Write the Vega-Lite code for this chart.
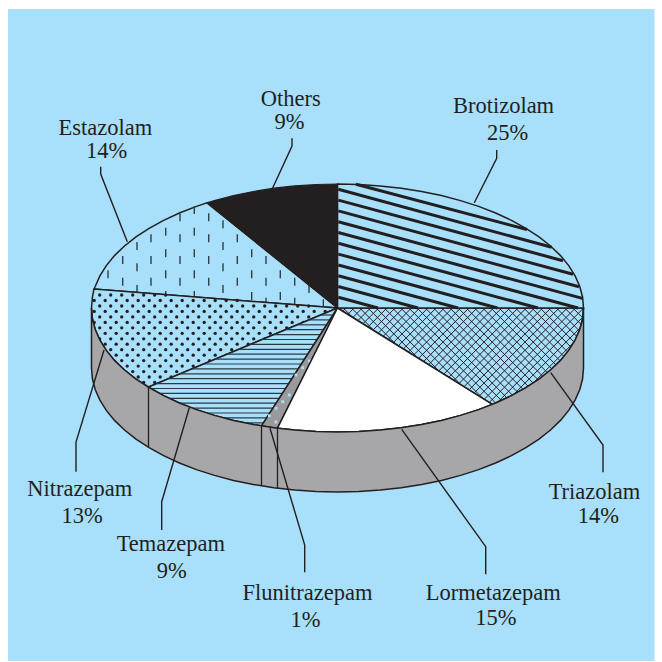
{"$schema":"https://vega.github.io/schema/vega-lite/v6.json","width":662,"height":662,"padding":0,"autosize":{"type":"fit","contains":"padding"},"background":"#ffffff","config":{"view":{"stroke":null}},
"datasets":{
"panel":[{"x":8,"x2":654.5,"y":9,"y2":661}],
"tria":[{"x":337.5,"y":308},{"x":583.5,"y":308},{"x":582.6,"y":318.8},{"x":579.8,"y":329.5},{"x":575.1,"y":340.1},{"x":568.7,"y":350.4},{"x":560.5,"y":360.4},{"x":550.5,"y":370},{"x":539,"y":379.1},{"x":525.9,"y":387.7},{"x":511.4,"y":395.7},{"x":492.3,"y":404.4},{"x":337.5,"y":308}],
"triaLines":[{"x":343.3,"y":308,"x2":454.3,"y2":419},{"x":351.5,"y":308,"x2":460.7,"y2":417.2},{"x":359.7,"y":308,"x2":467.1,"y2":415.4},{"x":367.9,"y":308,"x2":473.4,"y2":413.5},{"x":376.1,"y":308,"x2":479.6,"y2":411.5},{"x":384.3,"y":308,"x2":485.4,"y2":409.1},{"x":392.5,"y":308,"x2":491.3,"y2":406.8},{"x":400.7,"y":308,"x2":497.2,"y2":404.5},{"x":408.9,"y":308,"x2":503,"y2":402.1},{"x":417.1,"y":308,"x2":508.3,"y2":399.2},{"x":425.3,"y":308,"x2":513.9,"y2":396.6},{"x":433.5,"y":308,"x2":519.3,"y2":393.8},{"x":441.7,"y":308,"x2":524.7,"y2":391},{"x":449.9,"y":308,"x2":529.9,"y2":388},{"x":458.1,"y":308,"x2":534.6,"y2":384.5},{"x":466.3,"y":308,"x2":539.5,"y2":381.2},{"x":474.5,"y":308,"x2":544.3,"y2":377.8},{"x":482.7,"y":308,"x2":549,"y2":374.3},{"x":490.9,"y":308,"x2":553.5,"y2":370.6},{"x":499.1,"y":308,"x2":557.3,"y2":366.2},{"x":507.3,"y":308,"x2":561.5,"y2":362.2},{"x":515.5,"y":308,"x2":565.4,"y2":357.9},{"x":523.7,"y":308,"x2":569.2,"y2":353.5},{"x":531.9,"y":308,"x2":572.7,"y2":348.8},{"x":540.1,"y":308,"x2":575.3,"y2":343.2},{"x":548.3,"y":308,"x2":578.2,"y2":337.9},{"x":556.5,"y":308,"x2":580.8,"y2":332.3},{"x":564.7,"y":308,"x2":583,"y2":326.3},{"x":572.9,"y":308,"x2":583,"y2":318.1},{"x":581.1,"y":308,"x2":583,"y2":310},
{"x":345.9,"y":308,"x2":339.7,"y2":314.2},{"x":354.1,"y":308,"x2":344.7,"y2":317.4},{"x":362.3,"y":308,"x2":349.8,"y2":320.5},{"x":370.5,"y":308,"x2":354.9,"y2":323.6},{"x":378.7,"y":308,"x2":359.9,"y2":326.8},{"x":386.9,"y":308,"x2":365,"y2":329.9},{"x":395.1,"y":308,"x2":370,"y2":333.1},{"x":403.3,"y":308,"x2":375.1,"y2":336.2},{"x":411.5,"y":308,"x2":380.1,"y2":339.4},{"x":419.7,"y":308,"x2":385.2,"y2":342.5},{"x":427.9,"y":308,"x2":390.2,"y2":345.7},{"x":436.1,"y":308,"x2":395.3,"y2":348.8},{"x":444.3,"y":308,"x2":400.3,"y2":352},{"x":452.5,"y":308,"x2":405.4,"y2":355.1},{"x":460.7,"y":308,"x2":410.4,"y2":358.3},{"x":468.9,"y":308,"x2":415.5,"y2":361.4},{"x":477.1,"y":308,"x2":420.5,"y2":364.6},{"x":485.3,"y":308,"x2":425.6,"y2":367.7},{"x":493.5,"y":308,"x2":430.6,"y2":370.9},{"x":501.7,"y":308,"x2":435.7,"y2":374},{"x":509.9,"y":308,"x2":440.7,"y2":377.2},{"x":518.1,"y":308,"x2":445.8,"y2":380.3},{"x":526.3,"y":308,"x2":450.8,"y2":383.5},{"x":534.5,"y":308,"x2":455.9,"y2":386.6},{"x":542.7,"y":308,"x2":460.9,"y2":389.8},{"x":550.9,"y":308,"x2":466,"y2":392.9},{"x":559.1,"y":308,"x2":471,"y2":396.1},{"x":567.3,"y":308,"x2":476.1,"y2":399.2},{"x":575.5,"y":308,"x2":481.1,"y2":402.4},{"x":583.5,"y":308.2,"x2":486.2,"y2":405.5},{"x":582.8,"y":317.1,"x2":495.6,"y2":404.2},{"x":580.3,"y":327.8,"x2":511.3,"y2":396.8},{"x":573.7,"y":342.6,"x2":530.9,"y2":385.3}],
"bro":[{"x":337.5,"y":308},{"x":337.5,"y":184},{"x":358.9,"y":184.5},{"x":380.2,"y":185.9},{"x":401.2,"y":188.2},{"x":421.6,"y":191.5},{"x":441.5,"y":195.6},{"x":460.5,"y":200.6},{"x":478.6,"y":206.4},{"x":495.6,"y":213},{"x":511.4,"y":220.3},{"x":525.9,"y":228.3},{"x":539,"y":236.9},{"x":550.5,"y":246},{"x":560.5,"y":255.6},{"x":568.7,"y":265.6},{"x":575.1,"y":275.9},{"x":579.8,"y":286.5},{"x":582.6,"y":297.2},{"x":583.5,"y":308},{"x":337.5,"y":308}],
"broLines":[{"x":356,"y":184.3,"x2":527,"y2":229.5},{"x":338.3,"y":189.3,"x2":551.7,"y2":247.3},{"x":338.3,"y":200.1,"x2":563,"y2":260.7},{"x":338.3,"y":210.9,"x2":573,"y2":274.3},{"x":338.3,"y":221.7,"x2":579,"y2":286.7},{"x":338.3,"y":232.5,"x2":582.5,"y2":298.4},{"x":338.3,"y":243.3,"x2":578,"y2":308},{"x":338.3,"y":254.1,"x2":538,"y2":308},{"x":338.3,"y":265,"x2":497.5,"y2":308},{"x":338.3,"y":275.7,"x2":458,"y2":308},{"x":338.3,"y":286.5,"x2":418,"y2":308},{"x":338.3,"y":297.3,"x2":378,"y2":308}],
"lorm":[{"x":337.5,"y":308},{"x":492.3,"y":404.4},{"x":478.6,"y":409.6},{"x":460.5,"y":415.4},{"x":441.5,"y":420.4},{"x":421.6,"y":424.5},{"x":401.2,"y":427.8},{"x":380.2,"y":430.1},{"x":358.9,"y":431.5},{"x":337.5,"y":432},{"x":316.1,"y":431.5},{"x":294.8,"y":430.1},{"x":277.5,"y":428.2},{"x":337.5,"y":308}],
"esta":[{"x":337.5,"y":308},{"x":94,"y":289},{"x":95.2,"y":286.5},{"x":99.9,"y":275.9},{"x":106.3,"y":265.6},{"x":114.5,"y":255.6},{"x":124.5,"y":246},{"x":136,"y":236.9},{"x":149.1,"y":228.3},{"x":163.6,"y":220.3},{"x":179.4,"y":213},{"x":196.4,"y":206.4},{"x":207,"y":202.8},{"x":337.5,"y":308}],
"estaDash":[{"x":108,"y":270.3,"y2":278.3},{"x":122.7,"y":256,"y2":264},{"x":122.7,"y":277.7,"y2":285.7},{"x":137,"y":242,"y2":250},{"x":137,"y":263.3,"y2":271.3},{"x":137,"y":285,"y2":293},{"x":151,"y":234.3,"y2":242.3},{"x":151,"y":256,"y2":264},{"x":151,"y":277.7,"y2":285.7},{"x":165.7,"y":227.7,"y2":235.7},{"x":165.7,"y":249.3,"y2":257.3},{"x":165.7,"y":270.3,"y2":278.3},{"x":165.7,"y":291,"y2":299},{"x":180,"y":213.3,"y2":221.3},{"x":180,"y":234.3,"y2":242.3},{"x":180,"y":256,"y2":264},{"x":180,"y":277.7,"y2":285.7},{"x":194.3,"y":206,"y2":214},{"x":194.3,"y":227.7,"y2":235.7},{"x":194.3,"y":249.3,"y2":257.3},{"x":194.3,"y":270.3,"y2":278.3},{"x":194.3,"y":291,"y2":299},{"x":208.7,"y":213.3,"y2":221.3},{"x":208.7,"y":234.3,"y2":242.3},{"x":208.7,"y":256,"y2":264},{"x":208.7,"y":277.7,"y2":285.7},{"x":223,"y":220.3,"y2":228.3},{"x":223,"y":242,"y2":250},{"x":223,"y":263.3,"y2":271.3},{"x":223,"y":285,"y2":293},{"x":237.3,"y":234.3,"y2":242.3},{"x":237.3,"y":256,"y2":264},{"x":237.3,"y":277.7,"y2":285.7},{"x":251.7,"y":249.3,"y2":257.3},{"x":251.7,"y":270.3,"y2":278.3},{"x":251.7,"y":292,"y2":300},{"x":266,"y":256,"y2":264},{"x":266,"y":277.7,"y2":285.7},{"x":266,"y":297.7,"y2":305.7},{"x":280.3,"y":270.3,"y2":278.3},{"x":280.3,"y":292,"y2":300},{"x":294.7,"y":277.7,"y2":285.7},{"x":294.7,"y":297.7,"y2":305.7},{"x":309,"y":285,"y2":293},{"x":323.3,"y":299.3,"y2":307.3}],
"nitra":[{"x":337.5,"y":308},{"x":148.5,"y":387},{"x":136,"y":379.1},{"x":124.5,"y":370},{"x":114.5,"y":360.4},{"x":106.3,"y":350.4},{"x":99.9,"y":340.1},{"x":95.2,"y":329.5},{"x":92.4,"y":318.8},{"x":91.5,"y":308},{"x":92.4,"y":297.2},{"x":94,"y":289},{"x":337.5,"y":308}],
"nitraDots":[
{"x":99.7,"y":295},{"x":110.7,"y":295},{"x":121.7,"y":295},{"x":132.7,"y":295},{"x":143.7,"y":295},{"x":154.7,"y":295},{"x":165.7,"y":295},
{"x":94.2,"y":300.5},{"x":105.2,"y":300.5},{"x":116.2,"y":300.5},{"x":127.2,"y":300.5},{"x":138.2,"y":300.5},{"x":149.2,"y":300.5},{"x":160.2,"y":300.5},{"x":171.2,"y":300.5},{"x":182.2,"y":300.5},{"x":193.2,"y":300.5},{"x":204.2,"y":300.5},{"x":215.2,"y":300.5},{"x":226.2,"y":300.5},{"x":237.2,"y":300.5},
{"x":99.7,"y":306},{"x":110.7,"y":306},{"x":121.7,"y":306},{"x":132.7,"y":306},{"x":143.7,"y":306},{"x":154.7,"y":306},{"x":165.7,"y":306},{"x":176.7,"y":306},{"x":187.7,"y":306},{"x":198.7,"y":306},{"x":209.7,"y":306},{"x":220.7,"y":306},{"x":231.7,"y":306},{"x":242.7,"y":306},{"x":253.7,"y":306},{"x":264.7,"y":306},{"x":275.7,"y":306},{"x":286.7,"y":306},{"x":297.7,"y":306},{"x":308.7,"y":306},
{"x":94.2,"y":311.4},{"x":105.2,"y":311.4},{"x":116.2,"y":311.4},{"x":127.2,"y":311.4},{"x":138.2,"y":311.4},{"x":149.2,"y":311.4},{"x":160.2,"y":311.4},{"x":171.2,"y":311.4},{"x":182.2,"y":311.4},{"x":193.2,"y":311.4},{"x":204.2,"y":311.4},{"x":215.2,"y":311.4},{"x":226.2,"y":311.4},{"x":237.2,"y":311.4},{"x":248.2,"y":311.4},{"x":259.2,"y":311.4},{"x":270.2,"y":311.4},{"x":281.2,"y":311.4},{"x":292.2,"y":311.4},{"x":303.2,"y":311.4},{"x":314.2,"y":311.4},{"x":325.2,"y":311.4},
{"x":99.7,"y":316.9},{"x":110.7,"y":316.9},{"x":121.7,"y":316.9},{"x":132.7,"y":316.9},{"x":143.7,"y":316.9},{"x":154.7,"y":316.9},{"x":165.7,"y":316.9},{"x":176.7,"y":316.9},{"x":187.7,"y":316.9},{"x":198.7,"y":316.9},{"x":209.7,"y":316.9},{"x":220.7,"y":316.9},{"x":231.7,"y":316.9},{"x":242.7,"y":316.9},{"x":253.7,"y":316.9},{"x":264.7,"y":316.9},{"x":275.7,"y":316.9},{"x":286.7,"y":316.9},{"x":297.7,"y":316.9},{"x":308.7,"y":316.9},{"x":319.7,"y":316.9},
{"x":94.2,"y":322.4},{"x":105.2,"y":322.4},{"x":116.2,"y":322.4},{"x":127.2,"y":322.4},{"x":138.2,"y":322.4},{"x":149.2,"y":322.4},{"x":160.2,"y":322.4},{"x":171.2,"y":322.4},{"x":182.2,"y":322.4},{"x":193.2,"y":322.4},{"x":204.2,"y":322.4},{"x":215.2,"y":322.4},{"x":226.2,"y":322.4},{"x":237.2,"y":322.4},{"x":248.2,"y":322.4},{"x":259.2,"y":322.4},{"x":270.2,"y":322.4},{"x":281.2,"y":322.4},{"x":292.2,"y":322.4},{"x":303.2,"y":322.4},
{"x":99.7,"y":327.8},{"x":110.7,"y":327.8},{"x":121.7,"y":327.8},{"x":132.7,"y":327.8},{"x":143.7,"y":327.8},{"x":154.7,"y":327.8},{"x":165.7,"y":327.8},{"x":176.7,"y":327.8},{"x":187.7,"y":327.8},{"x":198.7,"y":327.8},{"x":209.7,"y":327.8},{"x":220.7,"y":327.8},{"x":231.7,"y":327.8},{"x":242.7,"y":327.8},{"x":253.7,"y":327.8},{"x":264.7,"y":327.8},{"x":275.7,"y":327.8},{"x":286.7,"y":327.8},
{"x":105.2,"y":333.3},{"x":116.2,"y":333.3},{"x":127.2,"y":333.3},{"x":138.2,"y":333.3},{"x":149.2,"y":333.3},{"x":160.2,"y":333.3},{"x":171.2,"y":333.3},{"x":182.2,"y":333.3},{"x":193.2,"y":333.3},{"x":204.2,"y":333.3},{"x":215.2,"y":333.3},{"x":226.2,"y":333.3},{"x":237.2,"y":333.3},{"x":248.2,"y":333.3},{"x":259.2,"y":333.3},{"x":270.2,"y":333.3},{"x":281.2,"y":333.3},
{"x":99.7,"y":338.8},{"x":110.7,"y":338.8},{"x":121.7,"y":338.8},{"x":132.7,"y":338.8},{"x":143.7,"y":338.8},{"x":154.7,"y":338.8},{"x":165.7,"y":338.8},{"x":176.7,"y":338.8},{"x":187.7,"y":338.8},{"x":198.7,"y":338.8},{"x":209.7,"y":338.8},{"x":220.7,"y":338.8},{"x":231.7,"y":338.8},{"x":242.7,"y":338.8},{"x":253.7,"y":338.8},{"x":264.7,"y":338.8},
{"x":105.2,"y":344.2},{"x":116.2,"y":344.2},{"x":127.2,"y":344.2},{"x":138.2,"y":344.2},{"x":149.2,"y":344.2},{"x":160.2,"y":344.2},{"x":171.2,"y":344.2},{"x":182.2,"y":344.2},{"x":193.2,"y":344.2},{"x":204.2,"y":344.2},{"x":215.2,"y":344.2},{"x":226.2,"y":344.2},{"x":237.2,"y":344.2},{"x":248.2,"y":344.2},
{"x":110.7,"y":349.7},{"x":121.7,"y":349.7},{"x":132.7,"y":349.7},{"x":143.7,"y":349.7},{"x":154.7,"y":349.7},{"x":165.7,"y":349.7},{"x":176.7,"y":349.7},{"x":187.7,"y":349.7},{"x":198.7,"y":349.7},{"x":209.7,"y":349.7},{"x":220.7,"y":349.7},{"x":231.7,"y":349.7},{"x":242.7,"y":349.7},
{"x":116.2,"y":355.2},{"x":127.2,"y":355.2},{"x":138.2,"y":355.2},{"x":149.2,"y":355.2},{"x":160.2,"y":355.2},{"x":171.2,"y":355.2},{"x":182.2,"y":355.2},{"x":193.2,"y":355.2},{"x":204.2,"y":355.2},{"x":215.2,"y":355.2},{"x":226.2,"y":355.2},
{"x":121.7,"y":360.6},{"x":132.7,"y":360.6},{"x":143.7,"y":360.6},{"x":154.7,"y":360.6},{"x":165.7,"y":360.6},{"x":176.7,"y":360.6},{"x":187.7,"y":360.6},{"x":198.7,"y":360.6},{"x":209.7,"y":360.6},
{"x":127.2,"y":366.1},{"x":138.2,"y":366.1},{"x":149.2,"y":366.1},{"x":160.2,"y":366.1},{"x":171.2,"y":366.1},{"x":182.2,"y":366.1},{"x":193.2,"y":366.1},
{"x":132.7,"y":371.6},{"x":143.7,"y":371.6},{"x":154.7,"y":371.6},{"x":165.7,"y":371.6},{"x":176.7,"y":371.6},{"x":187.7,"y":371.6},
{"x":138.2,"y":377},{"x":149.2,"y":377},{"x":160.2,"y":377},{"x":171.2,"y":377},
{"x":143.7,"y":382.5},{"x":154.7,"y":382.5}],
"tema":[{"x":337.5,"y":308},{"x":261.5,"y":425.9},{"x":253.4,"y":424.5},{"x":233.5,"y":420.4},{"x":214.5,"y":415.4},{"x":196.4,"y":409.6},{"x":179.4,"y":403},{"x":163.6,"y":395.7},{"x":148.5,"y":387},{"x":337.5,"y":308}],
"temaLines":[{"x":320.8,"x2":335,"y":315},{"x":309,"x2":331.8,"y":319.9},{"x":297.3,"x2":328.6,"y":324.8},{"x":285.6,"x2":325.4,"y":329.7},{"x":273.9,"x2":322.3,"y":334.6},{"x":262.1,"x2":319.1,"y":339.5},{"x":250.4,"x2":315.9,"y":344.4},{"x":238.7,"x2":312.8,"y":349.3},{"x":227,"x2":309.6,"y":354.2},{"x":215.2,"x2":306.4,"y":359.1},{"x":203.5,"x2":303.3,"y":364},{"x":191.8,"x2":300.1,"y":368.9},{"x":180.2,"x2":297,"y":373.8},{"x":168.4,"x2":293.8,"y":378.7},{"x":156.6,"x2":290.6,"y":383.6},{"x":152,"x2":287.5,"y":388.5},{"x":152,"x2":284.3,"y":393.4},{"x":160,"x2":281.1,"y":398.3},{"x":170,"x2":278,"y":403.2},{"x":182,"x2":274.8,"y":408.1},{"x":195,"x2":271.6,"y":413},{"x":210,"x2":268.5,"y":417.9},{"x":228,"x2":265.3,"y":422.8}],
"fluni":[{"x":337.5,"y":308},{"x":277.5,"y":428.2},{"x":261.5,"y":425.9},{"x":337.5,"y":308}],
"fluniDots":[{"x":276,"y":422},{"x":276,"y":408.3},{"x":282.7,"y":401.7},{"x":289.3,"y":395},{"x":296,"y":375},{"x":302.7,"y":367.7},{"x":309.3,"y":361},{"x":269.3,"y":415.7}],
"others":[{"x":337.5,"y":308},{"x":207,"y":202.8},{"x":214.5,"y":200.6},{"x":233.5,"y":195.6},{"x":253.4,"y":191.5},{"x":273.8,"y":188.2},{"x":294.8,"y":185.9},{"x":316.1,"y":184.5},{"x":337.5,"y":184},{"x":337.5,"y":308}],
"side":[{"x":583.5,"y":308},{"x":582.6,"y":318.8},{"x":579.8,"y":329.5},{"x":575.1,"y":340.1},{"x":568.7,"y":350.4},{"x":560.5,"y":360.4},{"x":550.5,"y":370},{"x":539,"y":379.1},{"x":525.9,"y":387.7},{"x":511.4,"y":395.7},{"x":495.6,"y":403},{"x":478.6,"y":409.6},{"x":460.5,"y":415.4},{"x":441.5,"y":420.4},{"x":421.6,"y":424.5},{"x":401.2,"y":427.8},{"x":380.2,"y":430.1},{"x":358.9,"y":431.5},{"x":337.5,"y":432},{"x":316.1,"y":431.5},{"x":294.8,"y":430.1},{"x":273.8,"y":427.8},{"x":253.4,"y":424.5},{"x":233.5,"y":420.4},{"x":214.5,"y":415.4},{"x":196.4,"y":409.6},{"x":179.4,"y":403},{"x":163.6,"y":395.7},{"x":149.1,"y":387.7},{"x":136,"y":379.1},{"x":124.5,"y":370},{"x":114.5,"y":360.4},{"x":106.3,"y":350.4},{"x":99.9,"y":340.1},{"x":95.2,"y":329.5},{"x":92.4,"y":318.8},{"x":91.5,"y":308},
{"x":91.5,"y":368},{"x":92.4,"y":378.8},{"x":95.2,"y":389.5},{"x":99.9,"y":400.1},{"x":106.3,"y":410.4},{"x":114.5,"y":420.4},{"x":124.5,"y":430},{"x":136,"y":439.1},{"x":149.1,"y":447.7},{"x":163.6,"y":455.7},{"x":179.4,"y":463},{"x":196.4,"y":469.6},{"x":214.5,"y":475.4},{"x":233.5,"y":480.4},{"x":253.4,"y":484.5},{"x":273.8,"y":487.8},{"x":294.8,"y":490.1},{"x":316.1,"y":491.5},{"x":337.5,"y":492},{"x":358.9,"y":491.5},{"x":380.2,"y":490.1},{"x":401.2,"y":487.8},{"x":421.6,"y":484.5},{"x":441.5,"y":480.4},{"x":460.5,"y":475.4},{"x":478.6,"y":469.6},{"x":495.6,"y":463},{"x":511.4,"y":455.7},{"x":525.9,"y":447.7},{"x":539,"y":439.1},{"x":550.5,"y":430},{"x":560.5,"y":420.4},{"x":568.7,"y":410.4},{"x":575.1,"y":400.1},{"x":579.8,"y":389.5},{"x":582.6,"y":378.8},{"x":583.5,"y":368},{"x":583.5,"y":308}],
"drops":[{"x":148.5,"y":387,"y2":447},{"x":261.5,"y":425.9,"y2":485.9},{"x":277.5,"y":428.2,"y2":488.2}],
"leaders":[{"label":"Brotizolam","x":496.7,"y":150},{"label":"Brotizolam","x":496.7,"y":158.3},{"label":"Brotizolam","x":474.3,"y":202.7},
{"label":"Others","x":292,"y":138.3},{"label":"Others","x":292,"y":146},{"label":"Others","x":272.3,"y":188.7},
{"label":"Estazolam","x":100.7,"y":166.7},{"label":"Estazolam","x":100.7,"y":174},{"label":"Estazolam","x":127.3,"y":241.7},
{"label":"Nitrazepam","x":104,"y":350},{"label":"Nitrazepam","x":76,"y":442},{"label":"Nitrazepam","x":76,"y":471.7},
{"label":"Temazepam","x":189.3,"y":407.7},{"label":"Temazepam","x":161.7,"y":501.7},{"label":"Temazepam","x":161.7,"y":530},
{"label":"Flunitrazepam","x":270,"y":428.3},{"label":"Flunitrazepam","x":304.7,"y":545},{"label":"Flunitrazepam","x":304.7,"y":572.3},
{"label":"Lormetazepam","x":401.7,"y":429.3},{"label":"Lormetazepam","x":485.7,"y":546.7},{"label":"Lormetazepam","x":485.7,"y":574.3},
{"label":"Triazolam","x":550.7,"y":372.7},{"label":"Triazolam","x":603,"y":445},{"label":"Triazolam","x":603,"y":472.3}],
"labels":[{"t":"Brotizolam","x":503.5,"y":112.7},{"t":"25%","x":507.5,"y":140},{"t":"Others","x":290.7,"y":106},{"t":"9%","x":289.5,"y":129},{"t":"Estazolam","x":105.3,"y":135},{"t":"14%","x":106.7,"y":157.7},{"t":"Nitrazepam","x":79.7,"y":496},{"t":"13%","x":82,"y":522.7},{"t":"Temazepam","x":170.8,"y":551},{"t":"9%","x":171.7,"y":577.7},{"t":"Flunitrazepam","x":307.5,"y":600},{"t":"1%","x":305.5,"y":626.7},{"t":"Lormetazepam","x":493.3,"y":600},{"t":"15%","x":495.8,"y":625.3},{"t":"Triazolam","x":594.5,"y":499},{"t":"14%","x":598.3,"y":522.7}]
},
"encoding":{"x":{"field":"x","type":"quantitative","scale":{"domain":[0,662],"nice":false,"zero":false},"axis":null},"y":{"field":"y","type":"quantitative","scale":{"domain":[0,662],"nice":false,"zero":false,"reverse":true},"axis":null}},
"layer":[
{"data":{"name":"panel"},"mark":{"type":"rect","fill":"#a8dffb"},"encoding":{"x2":{"field":"x2"},"y2":{"field":"y2"}}},
{"data":{"name":"tria"},"transform":[{"window":[{"op":"row_number","as":"i"}]}],"mark":{"type":"line","fill":"#a8dffb","stroke":"#231f20","strokeWidth":1.5},"encoding":{"order":{"field":"i","type":"quantitative"}}},
{"data":{"name":"triaLines"},"mark":{"type":"rule","stroke":"#231f20","strokeWidth":1},"encoding":{"x2":{"field":"x2"},"y2":{"field":"y2"}}},
{"data":{"name":"bro"},"transform":[{"window":[{"op":"row_number","as":"i"}]}],"mark":{"type":"line","fill":"#a8dffb","stroke":"#231f20","strokeWidth":1.5},"encoding":{"order":{"field":"i","type":"quantitative"}}},
{"data":{"name":"broLines"},"mark":{"type":"rule","stroke":"#231f20","strokeWidth":3},"encoding":{"x2":{"field":"x2"},"y2":{"field":"y2"}}},
{"data":{"name":"esta"},"transform":[{"window":[{"op":"row_number","as":"i"}]}],"mark":{"type":"line","fill":"#a8dffb","stroke":"#231f20","strokeWidth":1.5},"encoding":{"order":{"field":"i","type":"quantitative"}}},
{"data":{"name":"estaDash"},"mark":{"type":"rule","stroke":"#2f3f48","strokeWidth":1.4},"encoding":{"y2":{"field":"y2"}}},
{"data":{"name":"nitra"},"transform":[{"window":[{"op":"row_number","as":"i"}]}],"mark":{"type":"line","fill":"#a8dffb","stroke":"#231f20","strokeWidth":1.5},"encoding":{"order":{"field":"i","type":"quantitative"}}},
{"data":{"name":"nitraDots"},"mark":{"type":"point","shape":"circle","filled":true,"fill":"#231f20","stroke":null,"size":11,"opacity":1}},
{"data":{"name":"tema"},"transform":[{"window":[{"op":"row_number","as":"i"}]}],"mark":{"type":"line","fill":"#a8dffb","stroke":"#231f20","strokeWidth":1.5},"encoding":{"order":{"field":"i","type":"quantitative"}}},
{"data":{"name":"temaLines"},"mark":{"type":"rule","stroke":"#2a3a44","strokeWidth":1.2},"encoding":{"x2":{"field":"x2"}}},
{"data":{"name":"fluni"},"transform":[{"window":[{"op":"row_number","as":"i"}]}],"mark":{"type":"line","fill":"#9a9a9d","stroke":"#231f20","strokeWidth":1.5},"encoding":{"order":{"field":"i","type":"quantitative"}}},
{"data":{"name":"fluniDots"},"mark":{"type":"point","shape":"square","filled":true,"fill":"#a8dffb","stroke":null,"size":8,"opacity":1}},
{"data":{"name":"lorm"},"transform":[{"window":[{"op":"row_number","as":"i"}]}],"mark":{"type":"line","fill":"#ffffff","stroke":"#231f20","strokeWidth":1.5},"encoding":{"order":{"field":"i","type":"quantitative"}}},
{"data":{"name":"others"},"transform":[{"window":[{"op":"row_number","as":"i"}]}],"mark":{"type":"line","fill":"#231f20","stroke":"#231f20","strokeWidth":1.2},"encoding":{"order":{"field":"i","type":"quantitative"}}},
{"data":{"name":"side"},"transform":[{"window":[{"op":"row_number","as":"i"}]}],"mark":{"type":"line","fill":"#a7a7aa","stroke":"#231f20","strokeWidth":1.5},"encoding":{"order":{"field":"i","type":"quantitative"}}},
{"data":{"name":"drops"},"mark":{"type":"rule","stroke":"#231f20","strokeWidth":1.3},"encoding":{"y2":{"field":"y2"}}},
{"data":{"name":"leaders"},"transform":[{"window":[{"op":"row_number","as":"i"}]}],"mark":{"type":"line","stroke":"#231f20","strokeWidth":1.4},"encoding":{"detail":{"field":"label"},"order":{"field":"i","type":"quantitative"}}},
{"data":{"name":"labels"},"mark":{"type":"text","font":"Liberation Serif","fontSize":22.5,"fill":"#231f20","align":"center","baseline":"alphabetic"},"encoding":{"text":{"field":"t"}}}
]}
